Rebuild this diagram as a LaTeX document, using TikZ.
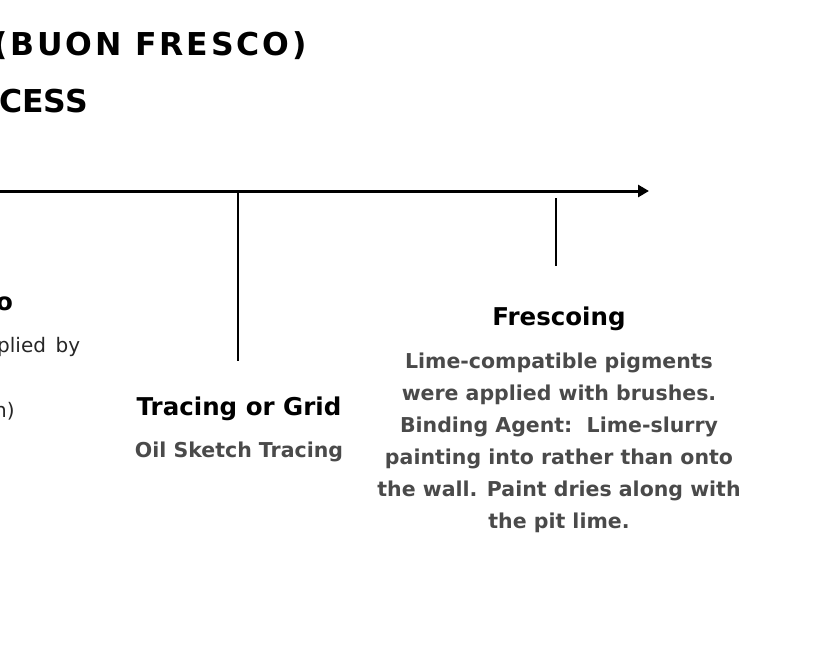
\documentclass[tikz,border=0pt]{standalone}
\usepackage{fontspec}
\setmainfont{DejaVu Sans}
\newfontfamily\titlefont[LetterSpace=9]{DejaVu Sans}
\usetikzlibrary{arrows.meta, positioning}
\definecolor{bodygray}{HTML}{4A4A4A}

\begin{document}
\begin{tikzpicture}[x=1pt, y=-1pt, >={Triangle[length=11pt,width=12pt]},
    title/.style  ={font=\titlefont\bfseries\fontsize{31.5}{38}\selectfont, anchor=base west, inner sep=0pt},
    heading/.style={font=\bfseries\fontsize{24.5}{29}\selectfont, anchor=base, inner sep=0pt},
    detail/.style ={font=\bfseries\fontsize{20.5}{32}\selectfont, text=bodygray, align=center, inner sep=0pt},
    partial/.style={font=\fontsize{20}{24}\selectfont, anchor=base west, inner sep=0pt, text=black!85},
    tick/.style   ={line width=1.5pt}
  ]
  \useasboundingbox (0,0) rectangle (835,670);
  \clip (0,0) rectangle (835,670);

  % Title (cut at left edge)
  \node[title] (titleA) at (-7,55)  {(BUON FRESCO)};
  \node[title] (titleB) at (-1,112) {\addfontfeature{LetterSpace=0}CESS};

  % Timeline
  \coordinate (axisL) at (-5,191);
  \coordinate (axisR) at (649,191);
  \draw[->, line width=3pt] (axisL) -- (axisR);

  % Left stage (only its right edge shows)
  \node[partial, font=\bfseries\fontsize{24.5}{29}\selectfont, text=black] (leftHead) at (-4,310) {o};
  \node[partial] (leftTxtA) at (-3,352) {plied\, by};
  \node[partial] (leftTxtB) at (-6,417) {n)};

  % Tracing
  \node[heading] (trace) at (239,415) {Tracing or Grid};
  \node[detail, below=21pt of trace] (traceTxt) {Oil Sketch Tracing};
  \coordinate (tickA) at (238,191);
  \coordinate (tickAend) at (238,361);
  \draw[tick] (tickA) -- (tickAend);

  % Frescoing
  \node[heading] (fresco) at (559,325) {Frescoing};
  \node[detail, below=22pt of fresco] (frescoTxt)
    {Lime-compatible pigments\\ were applied with brushes.\\ Binding Agent:\ \ Lime-slurry\\
     painting into rather than onto\\ the wall. Paint dries along with\\ the pit lime.};
  \coordinate (tickB) at (556,198);
  \coordinate (tickBend) at (556,266);
  \draw[tick] (tickB) -- (tickBend);
\end{tikzpicture}
\end{document}
